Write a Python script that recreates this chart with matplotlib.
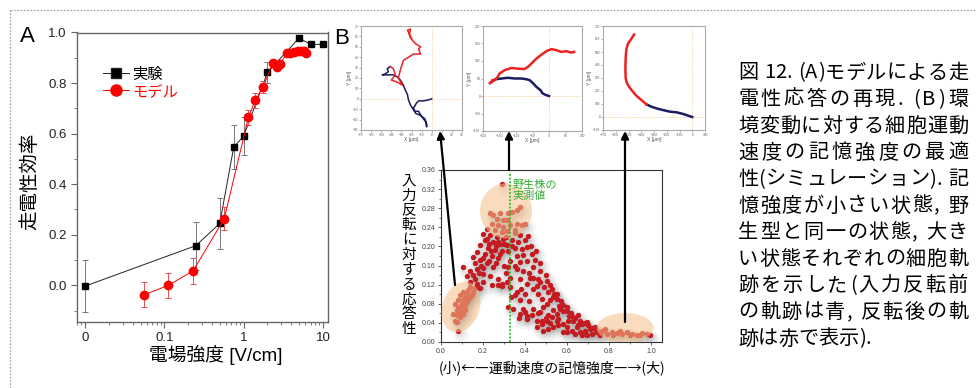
# Fig.12: galvanotaxis model (A) and memory strength optimality (B)

import numpy as np
import matplotlib
matplotlib.use('Agg')
import matplotlib.pyplot as plt
from matplotlib.patches import Ellipse, FancyArrowPatch
from matplotlib.lines import Line2D
from matplotlib.ticker import FixedLocator, LogLocator, MultipleLocator, NullFormatter
from matplotlib.transforms import IdentityTransform

plt.rcParams['font.family'] = ['Liberation Sans', 'Noto Sans CJK JP', 'DejaVu Sans']

W, H = 976, 388

# ---------------- data: panel A ----------------
exp_field = [0, 0.25, 0.5, 0.75, 1, 2, 5, 7, 10]
exp_eff = [-0.003, 0.157, 0.245, 0.547, 0.59, 0.842, 0.978, 0.953, 0.953]
exp_err = [0.104, 0.095, 0.1, 0.088, 0.074, 0.04, 0, 0, 0]

model_field = [0.056, 0.112, 0.23, 0.57, 1.15, 1.4, 1.77, 2.33, 2.6, 2.9,
               3.5, 3.9, 4.3, 4.8, 5.3, 5.8, 6.2]
model_eff = [-0.037, 0.0, 0.057, 0.264, 0.665, 0.732, 0.785, 0.881, 0.864, 0.877,
             0.917, 0.92, 0.923, 0.927, 0.927, 0.925, 0.92]
model_err = [0.05, 0.05, 0.05, 0.045, 0.03, 0.03, 0.025, 0, 0, 0,
             0, 0, 0, 0, 0, 0, 0]

# ---------------- data: trajectories ----------------
traj1_blue_x = [0, -3, -8, -13, -15, -18, -16, -11, -7, -5, -5, -6, -10, -13, -17,
                -21, -23, -24, -26, -28, -31, -34, -38, -44, -49, -46, -43, -44, -41]
traj1_blue_y = [0, -1, -2, -2, -4, -9, -14, -16, -19, -24, -27, -22, -17, -12, -12,
                -6, -1, 4, 8, 13, 18, 21, 23, 23, 23, 24, 26, 29, 31]
traj1_red_x = [-41, -38, -36, -40, -34, -29, -33, -31, -28, -23, -18, -11, -13, -11,
               -16, -19, -21, -23, -24, -21, -22, -20]
traj1_red_y = [31, 29, 23, 18, 16, 13, 20, 28, 37, 40, 43, 43, 48, 50,
               53, 56, 59, 64, 66, 67, 62, 58]

traj2_blue_x = [0, -10, -20, -25, -38, -48, -58, -69, -84, -104, -124, -144, -160, -170]
traj2_blue_y = [0, 3, 8, 16, 26, 36, 45, 48, 50, 50, 52, 50, 48, 45]
traj2_red_x = [-170, -180, -175, -165, -155, -150, -134, -114, -94, -74, -64, -53,
               -38, -23, -8, 7, 22, 37, 53, 68, 76]
traj2_red_y = [45, 36, 40, 45, 55, 64, 74, 80, 78, 77, 83, 93,
               107, 118, 128, 134, 131, 126, 128, 124, 126]

traj3_blue_x = [0, -31, -70, -123, -175, -228, -280, -319, -359]
traj3_blue_y = [0, 10, 23, 36, 41, 53, 66, 79, 97]
traj3_red_x = [-359, -398, -438, -465, -490, -511, -522, -524, -524, -522, -516, -503,
               -477, -456]
traj3_red_y = [97, 130, 163, 194, 225, 258, 296, 348, 399, 463, 527, 565, 603, 634]

# ---------------- data: panel B scatter ----------------
memory_strength = [
    0.289, 0.233, 0.249, 0.281, 0.321, 0.337, 0.36, 0.376,
    0.265, 0.294, 0.316,
    0.241, 0.273, 0.297, 0.329, 0.36, 0.384, 0.4,
    0.217, 0.257, 0.289, 0.316, 0.352, 0.376, 0.416,
    0.202, 0.233, 0.265, 0.297, 0.337, 0.368, 0.4,
    0.21, 0.249, 0.281, 0.313, 0.352, 0.384, 0.408,
    0.186, 0.225, 0.257, 0.289, 0.36, 0.392, 0.432,
    0.17, 0.21, 0.241, 0.273, 0.376, 0.408, 0.448,
    0.154, 0.186, 0.217, 0.249, 0.321, 0.36, 0.392, 0.44, 0.471,
    0.106, 0.138, 0.17, 0.202, 0.233, 0.273, 0.329, 0.376, 0.424, 0.463, 0.503,
    0.122, 0.162, 0.202, 0.241, 0.289, 0.313, 0.408, 0.456,
    0.3, 0.31, 0.33, 0.32,
    0.083, 0.067, 0.075, 0.09, 0.083, 0.098, 0.106, 0.114, 0.122, 0.13, 0.138,
    0.075, 0.09, 0.106, 0.098, 0.114, 0.122, 0.13, 0.146, 0.154, 0.162,
    0.067, 0.083, 0.09, 0.106, 0.059, 0.075, 0.114, 0.138, 0.17, 0.186,
    0.273, 0.292, 0.329, 0.321, 0.333,
    0.352, 0.36, 0.376, 0.344, 0.376, 0.4, 0.408, 0.432, 0.456, 0.471, 0.487,
    0.503, 0.519, 0.535, 0.551, 0.456, 0.479, 0.503, 0.527, 0.551, 0.567, 0.583,
    0.598, 0.487, 0.511, 0.535, 0.559, 0.583, 0.606, 0.63, 0.654, 0.511, 0.535,
    0.559, 0.598, 0.622, 0.646, 0.67, 0.694, 0.638, 0.662, 0.686, 0.71, 0.733,
    0.717, 0.741, 0.765, 0.789, 0.813, 0.837, 0.86, 0.884, 0.908, 0.932, 0.956,
    0.979, 0.995, 0.9, 0.852, 0.781, 0.757, 0.821, 0.948, 0.694, 0.67,
    0.42, 0.44, 0.47, 0.49, 0.51, 0.44, 0.46, 0.48, 0.4, 0.42, 0.53, 0.55, 0.57,
    0.6, 0.62, 0.64, 0.66, 0.68, 0.7, 0.72, 0.74,
    0.22, 0.23, 0.26, 0.27, 0.3, 0.24, 0.28, 0.2, 0.23, 0.19, 0.16, 0.18, 0.15,
    0.14, 0.2, 0.26, 0.35, 0.34, 0.31, 0.35,
    0.43, 0.45, 0.47, 0.5, 0.52, 0.54, 0.56, 0.58, 0.61, 0.63, 0.65, 0.5, 0.52,
    0.55, 0.58, 0.6, 0.48, 0.46, 0.44, 0.38, 0.39, 0.41, 0.37,
]
response = [
    0.33, 0.269, 0.265, 0.27, 0.269, 0.272, 0.277, 0.283,
    0.258, 0.255, 0.256,
    0.248, 0.244, 0.241, 0.244, 0.246, 0.244, 0.246,
    0.237, 0.234, 0.23, 0.232, 0.228, 0.225, 0.221,
    0.227, 0.223, 0.22, 0.216, 0.213, 0.209, 0.213,
    0.213, 0.209, 0.206, 0.202, 0.197, 0.195, 0.199,
    0.202, 0.197, 0.193, 0.19, 0.181, 0.183, 0.185,
    0.188, 0.185, 0.179, 0.176, 0.167, 0.17, 0.172,
    0.178, 0.171, 0.165, 0.158, 0.156, 0.153, 0.149, 0.156, 0.149,
    0.156, 0.149, 0.153, 0.142, 0.139, 0.132, 0.135, 0.132, 0.135, 0.132, 0.128,
    0.139, 0.132, 0.125, 0.12, 0.121, 0.125, 0.121, 0.118,
    0.16, 0.145, 0.17, 0.19,
    0.024, 0.045, 0.056, 0.063, 0.073, 0.08, 0.087, 0.094, 0.101, 0.108, 0.115,
    0.066, 0.052, 0.059, 0.07, 0.077, 0.084, 0.091, 0.098, 0.105, 0.112,
    0.08, 0.087, 0.098, 0.105, 0.059, 0.042, 0.066, 0.094, 0.122, 0.112,
    0.119, 0.117, 0.115, 0.073, 0.094,
    0.098, 0.105, 0.087, 0.07, 0.059, 0.063, 0.049, 0.056, 0.045, 0.063, 0.073,
    0.08, 0.087, 0.094, 0.101, 0.031, 0.038, 0.045, 0.052, 0.059, 0.07, 0.077,
    0.073, 0.024, 0.028, 0.031, 0.035, 0.038, 0.045, 0.052, 0.056, 0.056, 0.066,
    0.049, 0.031, 0.024, 0.031, 0.038, 0.042, 0.017, 0.021, 0.024, 0.028, 0.031,
    0.017, 0.021, 0.024, 0.017, 0.021, 0.019, 0.016, 0.021, 0.017, 0.015, 0.019,
    0.016, 0.014, 0.014, 0.024, 0.028, 0.014, 0.014, 0.014, 0.014, 0.014,
    0.145, 0.135, 0.125, 0.115, 0.105, 0.11, 0.1, 0.09, 0.1, 0.085, 0.11, 0.09, 0.085,
    0.065, 0.06, 0.05, 0.045, 0.04, 0.035, 0.03, 0.025,
    0.215, 0.205, 0.2, 0.21, 0.205, 0.19, 0.185, 0.175, 0.17, 0.16, 0.165, 0.145, 0.14,
    0.125, 0.155, 0.165, 0.235, 0.2, 0.22, 0.16,
    0.2, 0.19, 0.165, 0.14, 0.12, 0.1, 0.075, 0.065, 0.055, 0.045, 0.035, 0.05, 0.04,
    0.045, 0.02, 0.02, 0.045, 0.06, 0.07, 0.11, 0.07, 0.055, 0.05,
]
wild_type_memory = 0.327

caption_lines = [
    "図 12. (A)モデルによる走",
    "電性応答の再現. (B)環",
    "境変動に対する細胞運動",
    "速度の記憶強度の最適",
    "性(シミュレーション). 記",
    "憶強度が小さい状態, 野",
    "生型と同一の状態, 大き",
    "い状態それぞれの細胞軌",
    "跡を示した(入力反転前",
    "の軌跡は青, 反転後の軌",
    "跡は赤で表示).",
]


def px_axes(l, t, r, b):
    return fig.add_axes([l / W, 1 - b / H, (r - l) / W, (b - t) / H])


def fpos(x, y):
    return (x / W, 1 - y / H)


fig = plt.figure(figsize=(W / 100, H / 100), dpi=100)

# dotted frame (top and left visible)
fig.add_artist(Line2D([10 / W, 1], [1 - 10 / H] * 2, transform=fig.transFigure,
                      color='#999999', lw=0.8, ls=(0, (1.5, 1.5))))
fig.add_artist(Line2D([10 / W] * 2, [0, 1 - 10 / H], transform=fig.transFigure,
                      color='#999999', lw=0.8, ls=(0, (1.5, 1.5))))

# ================= Panel A =================
axA = px_axes(77, 32.5, 328, 322)
zero_pos = 0.01
exp_x = [zero_pos if v == 0 else v for v in exp_field]
axA.errorbar(exp_x, exp_eff, yerr=exp_err, color='#222222', lw=0.7, marker='s',
             ms=5, mfc='black', mec='black', ecolor='#777777', elinewidth=0.7,
             capsize=2.5, capthick=0.7, zorder=3)
axA.errorbar(model_field, model_eff, yerr=model_err, color='red', lw=0.7, marker='o',
             ms=6, mfc='red', mec='red', ecolor='#e85050', elinewidth=0.7,
             capsize=2.5, capthick=0.7, zorder=4)
axA.set_xscale('log')
axA.set_xlim(0.0079, 11.6)
axA.set_ylim(-0.145, 1.0)
axA.xaxis.set_major_locator(FixedLocator([0.01, 0.1, 1, 10]))
axA.set_xticklabels(['0', '0.1', '1', '10'])
axA.xaxis.set_minor_locator(LogLocator(base=10, subs=np.arange(2, 10)))
axA.xaxis.set_minor_formatter(NullFormatter())
axA.yaxis.set_major_locator(FixedLocator([0, 0.2, 0.4, 0.6, 0.8, 1.0]))
axA.set_yticklabels(['0.0', '0.2', '0.4', '0.6', '0.8', '1.0'])
axA.yaxis.set_minor_locator(MultipleLocator(0.1))
for s in axA.spines.values():
    s.set_color('#666666')
    s.set_linewidth(1.0)
axA.tick_params(which='both', direction='out', colors='#666666', labelcolor='#222222',
                labelsize=9.5)
axA.tick_params(which='major', length=4)
axA.tick_params(which='minor', length=2)
leg = axA.legend([Line2D([], [], color='#222222', lw=0.7, marker='s', ms=7, mfc='black'),
                  Line2D([], [], color='red', lw=0.7, marker='o', ms=8, mfc='red', mec='red')],
                 ['実験', 'モデル'], loc='upper left', bbox_to_anchor=(0.08, 0.9),
                 frameon=False, fontsize=11, handlelength=1.7, handletextpad=0.2,
                 labelspacing=0.2, borderaxespad=0)
leg.get_texts()[1].set_color('red')
fig.text(*fpos(27, 36), 'A', fontsize=16, ha='center', va='center')
fig.text(*fpos(30, 181), '走電性効率', fontsize=14, rotation=90, ha='center', va='center')
fig.text(*fpos(216, 355), '電場強度 [V/cm]', fontsize=13.5, ha='center', va='center')

# ================= Panel B trajectories =================
traj_specs = [
    ((361, 26, 462, 130), (-70, 30), (-30, 70), 10, 10,
     traj1_blue_x, traj1_blue_y, traj1_red_x, traj1_red_y, 1.1),
    ((483, 26, 582, 131), (-200, 100), (-100, 200), 50, 50,
     traj2_blue_x, traj2_blue_y, traj2_red_x, traj2_red_y, 1.8),
    ((603, 26, 705, 130), (-700, 100), (-100, 700), 100, 100,
     traj3_blue_x, traj3_blue_y, traj3_red_x, traj3_red_y, 1.8),
]
for box, xl, yl, xs, ys, bx, by, rx, ry, lw in traj_specs:
    ax = px_axes(*box)
    ax.axhline(0, color='#f2c080', lw=0.6, ls=':')
    ax.axvline(0, color='#f2c080', lw=0.6, ls=':')
    ax.plot(bx, by, color='#1c1c60', lw=lw, solid_joinstyle='round')
    ax.plot(rx, ry, color='#ee2020', lw=lw, solid_joinstyle='round')
    ax.set_xlim(*xl)
    ax.set_ylim(*yl)
    ax.xaxis.set_major_locator(MultipleLocator(xs))
    ax.yaxis.set_major_locator(MultipleLocator(ys))
    ax.tick_params(labelsize=2.3, length=1.2, width=0.4, pad=0.8, colors='#777777',
                   labelcolor='#555555')
    for s in ax.spines.values():
        s.set_color('#aaaaaa')
        s.set_linewidth(0.8)
    ax.set_xlabel('X [µm]', fontsize=3.5, labelpad=0.5, color='#555555')
    ax.set_ylabel('Y [µm]', fontsize=3.5, labelpad=0.5, color='#555555')

fig.text(*fpos(342, 38), 'B', fontsize=16, ha='center', va='center')

# ================= Panel B scatter =================
axB = px_axes(441, 170, 662, 342)
for dx, dy, s, a in [(3, -4, 120, 0.04), (2, -3, 60, 0.06), (1, -2, 30, 0.07)]:
    off = matplotlib.transforms.offset_copy(axB.transData, fig=fig, x=dx, y=dy, units='dots')
    axB.scatter(memory_strength, response, s=s, color='#606060', alpha=a,
                linewidths=0, transform=off, zorder=1)
axB.scatter(memory_strength, response, s=15, color='#c41a20', linewidths=0, zorder=2)

# highlighted regions (pixel space)
for cx, cy, w, h, ang in [(461, 307, 37, 52, -20), (506, 211, 52, 55, 0), (625, 328, 57, 30, 0)]:
    axB.add_patch(Ellipse((cx, H - cy), w, h, angle=ang, transform=IdentityTransform(),
                          facecolor='#f5c08a', edgecolor='none', alpha=0.55, zorder=3))

axB.plot([wild_type_memory] * 2, [0, 0.355], color='#22bb22', lw=1.3, ls=(0, (1, 1)),
         zorder=4)
axB.text(wild_type_memory + 0.015, 0.34, '野生株の\n実測値', color='#33aa33', fontsize=8,
         va='top', ha='left', linespacing=1.15, zorder=5)
axB.set_xlim(0, 1.052)
axB.set_ylim(0, 0.36)
axB.xaxis.set_major_locator(MultipleLocator(0.2))
axB.xaxis.set_minor_locator(MultipleLocator(0.1))
axB.yaxis.set_major_locator(MultipleLocator(0.04))
axB.yaxis.set_minor_locator(MultipleLocator(0.02))
axB.xaxis.set_major_formatter(matplotlib.ticker.FormatStrFormatter('%.1f'))
axB.yaxis.set_major_formatter(matplotlib.ticker.FormatStrFormatter('%.2f'))
axB.tick_params(which='both', direction='out', labelsize=5, colors='#444444', pad=1.5)
axB.tick_params(which='major', length=2.5, width=0.6)
axB.tick_params(which='minor', length=1.5, width=0.5)
for s in axB.spines.values():
    s.set_color('#333333')
    s.set_linewidth(0.8)

# arrows to trajectories
for (x0, y0), (x1, y1) in [((455, 285), (440, 131)), ((509, 170), (509, 131)),
                           ((625, 322), (625, 131))]:
    fig.add_artist(FancyArrowPatch(fpos(x0, y0), fpos(x1, y1), transform=fig.transFigure,
                                   arrowstyle='-|>', mutation_scale=11, lw=1.6,
                                   color='black', shrinkA=0, shrinkB=0, zorder=6))

# stacked vertical label
for i, ch in enumerate('入力反転に対する応答性'):
    fig.text(*fpos(409, 181 + i * 14.8), ch, fontsize=10.5, ha='center', va='center',
             family=['Noto Sans CJK JP'])
fig.text(*fpos(552, 368), '(小)←―運動速度の記憶強度―→(大)', fontsize=10,
         ha='center', va='center', family=['Noto Sans CJK JP', 'DejaVu Sans'])

# ================= caption =================
renderer = fig.canvas.get_renderer()
cap_left, cap_width = 738, 230
for i, line in enumerate(caption_lines):
    y = 73 + i * 26.6
    texts = [fig.text(0, 0, c, fontsize=14.5, va='center', ha='left',
                      family=['Noto Sans CJK JP', 'DejaVu Sans']) for c in line]
    widths = [t.get_window_extent(renderer).width if c != ' ' else 5
              for t, c in zip(texts, line)]
    last = i == len(caption_lines) - 1
    gap = 0 if last else (cap_width - sum(widths)) / (len(line) - 1)
    x = cap_left
    for t, w in zip(texts, widths):
        t.set_position(fpos(x, y))
        x += w + gap

fig.savefig('out.png', dpi=100)
